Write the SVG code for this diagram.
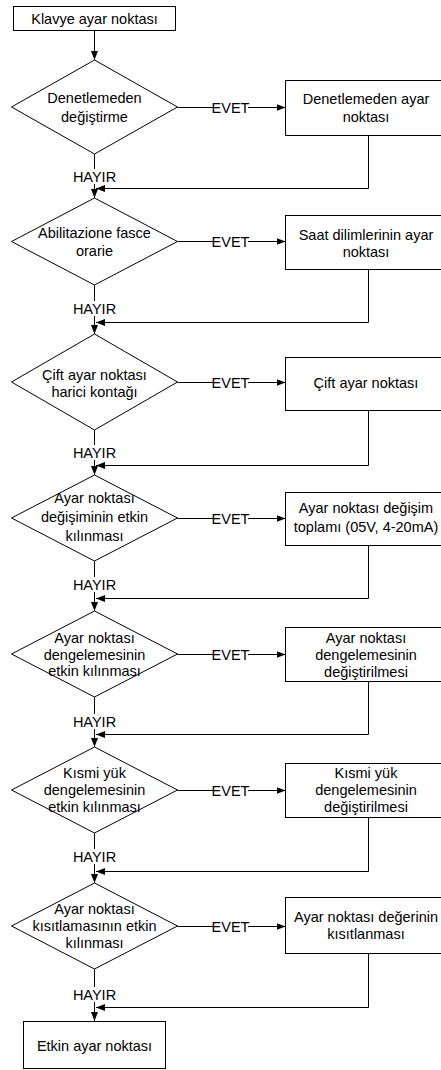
<svg xmlns="http://www.w3.org/2000/svg" width="441" height="1070" viewBox="0 0 441 1070">
<defs>
<marker id="ah" markerWidth="10" markerHeight="8" refX="9" refY="4" orient="auto" markerUnits="userSpaceOnUse"><path d="M0,0.5 L9,4 L0,7.5 z" fill="#000"/></marker>
</defs>
<style>
.n{fill:#fff;stroke:#000;stroke-width:1}
.t{font-family:"Liberation Sans",Arial,sans-serif;font-size:14.5px;fill:#000;text-anchor:middle}
.c{fill:none;stroke:#000;stroke-width:1}
.a{marker-end:url(#ah)}
</style>
<rect width="441" height="1070" fill="#fff"/>
<g id="connectors">
<path class="c a" d="M94.5,30.5 V60"/>
<path class="c" d="M177.5,107.5 H213"/><path class="c a" d="M248,107.5 H285.5"/>
<path class="c" d="M94.5,154 V169"/><path class="c a" d="M94.5,184 V198"/>
<path class="c a" d="M368.5,135.5 V188.5 H96"/>
<path class="c" d="M177.5,241.5 H213"/><path class="c a" d="M248,241.5 H285.5"/>
<path class="c" d="M94.5,285 V301"/><path class="c a" d="M94.5,316 V334"/>
<path class="c a" d="M368.5,269.5 V322.5 H96"/>
<path class="c" d="M177.5,382.5 H213"/><path class="c a" d="M248,382.5 H285.5"/>
<path class="c" d="M94.5,430 V445"/><path class="c a" d="M94.5,460 V475"/>
<path class="c a" d="M368.5,410.5 V465.5 H96"/>
<path class="c" d="M177.5,518.5 H213"/><path class="c a" d="M248,518.5 H285.5"/>
<path class="c" d="M94.5,561 V577"/><path class="c a" d="M94.5,592 V611"/>
<path class="c a" d="M368.5,545.5 V598.5 H96"/>
<path class="c" d="M177.5,654.5 H213"/><path class="c a" d="M248,654.5 H285.5"/>
<path class="c" d="M94.5,697 V714"/><path class="c a" d="M94.5,729 V747"/>
<path class="c a" d="M368.5,681.5 V734.5 H96"/>
<path class="c" d="M177.5,790.5 H213"/><path class="c a" d="M248,790.5 H285.5"/>
<path class="c" d="M94.5,833 V849"/><path class="c a" d="M94.5,864 V883"/>
<path class="c a" d="M368.5,817.5 V871.5 H96"/>
<path class="c" d="M177.5,926.5 H213"/><path class="c a" d="M248,926.5 H285.5"/>
<path class="c" d="M94.5,969 V987"/><path class="c a" d="M94.5,1002 V1021"/>
<path class="c a" d="M368.5,953.5 V1007.5 H96"/>
<text class="t" x="230.5" y="112.5">EVET</text>
<text class="t" x="230.5" y="246.5">EVET</text>
<text class="t" x="230.5" y="387.5">EVET</text>
<text class="t" x="230.5" y="523.5">EVET</text>
<text class="t" x="230.5" y="659.5">EVET</text>
<text class="t" x="230.5" y="795.5">EVET</text>
<text class="t" x="230.5" y="931.5">EVET</text>
<text class="t" x="94.5" y="182">HAYIR</text>
<text class="t" x="94.5" y="314">HAYIR</text>
<text class="t" x="94.5" y="458">HAYIR</text>
<text class="t" x="94.5" y="590">HAYIR</text>
<text class="t" x="94.5" y="727">HAYIR</text>
<text class="t" x="94.5" y="862">HAYIR</text>
<text class="t" x="94.5" y="1000">HAYIR</text>
</g>
<g id="start"><rect class="n" x="13.5" y="6.5" width="162" height="24"/><text class="t" x="94.5" y="24">Klavye ayar noktası</text></g>
<g id="d1"><polygon class="n" points="94.5,60 177.5,107 94.5,154 11.5,107"/><text class="t" x="94.5" y="103">Denetlemeden</text><text class="t" x="94.5" y="122">değiştirme</text></g>
<g id="b1"><rect class="n" x="285.5" y="80.5" width="162" height="55"/><text class="t" x="366" y="104">Denetlemeden ayar</text><text class="t" x="366" y="122">noktası</text></g>
<g id="d2"><polygon class="n" points="94.5,198 177.5,241.5 94.5,285 11.5,241.5"/><text class="t" x="94.5" y="238">Abilitazione fasce</text><text class="t" x="94.5" y="256">orarie</text></g>
<g id="b2"><rect class="n" x="285.5" y="215.5" width="162" height="54"/><text class="t" x="366" y="240">Saat dilimlerinin ayar</text><text class="t" x="366" y="257">noktası</text></g>
<g id="d3"><polygon class="n" points="94.5,334 177.5,382 94.5,430 11.5,382"/><text class="t" x="94.5" y="380">Çift ayar noktası</text><text class="t" x="94.5" y="397">harici kontağı</text></g>
<g id="b3"><rect class="n" x="285.5" y="357.5" width="162" height="53"/><text class="t" x="366" y="388">Çift ayar noktası</text></g>
<g id="d4"><polygon class="n" points="94.5,475 177.5,518 94.5,561 11.5,518"/><text class="t" x="94.5" y="503">Ayar noktası</text><text class="t" x="94.5" y="522">değişiminin etkin</text><text class="t" x="94.5" y="541">kılınması</text></g>
<g id="b4"><rect class="n" x="285.5" y="492.5" width="162" height="53"/><text class="t" x="366" y="513">Ayar noktası değişim</text><text class="t" x="366" y="532">toplamı (05V, 4-20mA)</text></g>
<g id="d5"><polygon class="n" points="94.5,611 177.5,654 94.5,697 11.5,654"/><text class="t" x="94.5" y="643">Ayar noktası</text><text class="t" x="94.5" y="660">dengelemesinin</text><text class="t" x="94.5" y="676">etkin kılınması</text></g>
<g id="b5"><rect class="n" x="285.5" y="627.5" width="162" height="54"/><text class="t" x="366" y="643">Ayar noktası</text><text class="t" x="366" y="660">dengelemesinin</text><text class="t" x="366" y="677">değiştirilmesi</text></g>
<g id="d6"><polygon class="n" points="94.5,747 177.5,790 94.5,833 11.5,790"/><text class="t" x="94.5" y="778">Kısmi yük</text><text class="t" x="94.5" y="795">dengelemesinin</text><text class="t" x="94.5" y="812">etkin kılınması</text></g>
<g id="b6"><rect class="n" x="285.5" y="763.5" width="162" height="54"/><text class="t" x="366" y="778">Kısmi yük</text><text class="t" x="366" y="795">dengelemesinin</text><text class="t" x="366" y="812">değiştirilmesi</text></g>
<g id="d7"><polygon class="n" points="94.5,883 177.5,926 94.5,969 11.5,926"/><text class="t" x="94.5" y="914">Ayar noktası</text><text class="t" x="94.5" y="931">kısıtlamasının etkin</text><text class="t" x="94.5" y="948">kılınması</text></g>
<g id="b7"><rect class="n" x="285.5" y="897.5" width="162" height="56"/><text class="t" x="366" y="922">Ayar noktası değerinin</text><text class="t" x="366" y="939">kısıtlanması</text></g>
<g id="end"><rect class="n" x="23.5" y="1021.5" width="142" height="47"/><text class="t" x="94.5" y="1051">Etkin ayar noktası</text></g>
</svg>
